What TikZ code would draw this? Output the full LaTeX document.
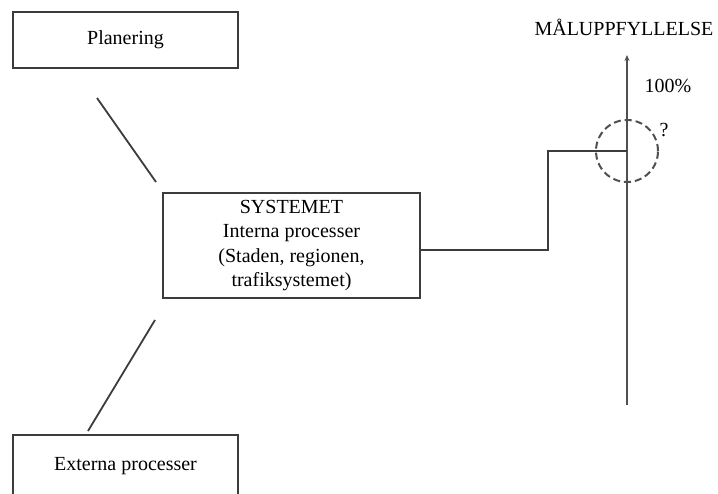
\documentclass[tikz,border=0pt]{standalone}
\usepackage{fontspec}
\setmainfont{Liberation Serif}
\usepackage{tikz}
\usetikzlibrary{arrows.meta,calc,positioning}
\definecolor{boxline}{RGB}{60,60,60}
\definecolor{axisline}{RGB}{80,80,80}
\tikzset{
  stagebox/.style={draw=boxline,line width=2.2pt,minimum width=225pt,minimum height=56pt,align=center,font=\fontsize{20}{24.5}\selectfont},
  link/.style={draw=boxline,line width=1.8pt},
  axislabel/.style={font=\fontsize{20}{24.5}\selectfont}
}

\begin{document}
\begin{tikzpicture}[x=1pt,y=-1pt]
  \useasboundingbox[fill=white] (0,0) rectangle (718,493);
  \node[stagebox] (plan) at (125.5,40) {Planering};
  \node[stagebox,minimum width=257pt,minimum height=105pt] (sys) at (291.5,245.5)
    {SYSTEMET\\Interna processer\\(Staden, regionen,\\trafiksystemet)};
  \node[stagebox,minimum height=62pt] (ext) at (125.5,466) {Externa processer};
  \coordinate (planend) at (97,98);
  \coordinate (sysin1) at (156,182);
  \coordinate (extend) at (88,431);
  \coordinate (sysin2) at (155,320);
  \draw[link] (planend) -- (sysin1);
  \draw[link] (extend) -- (sysin2);
  % goal axis
  \coordinate (axbot) at (627,405);
  \coordinate (axtop) at (627,55);
  \draw[draw=axisline,line width=1.8pt,-{Stealth[length=6pt,width=5pt]}] (axbot) -- (axtop);
  \node[draw=axisline,dash pattern=on 7pt off 4pt,line width=2pt,circle,minimum size=62pt,inner sep=0pt] (goal) at (627,151) {};
  \coordinate (turn) at (548,151);
  \draw[link] ([yshift=-4.5pt]sys.east) -| (turn) -- (goal.center);
  \node[axislabel] (goaltitle) at (624,27) {MÅLUPPFYLLELSE};
  \node[axislabel] (full) at (668,86) {100\%};
  \node[axislabel] (unknown) at (664,130) {?};
\end{tikzpicture}
\end{document}
